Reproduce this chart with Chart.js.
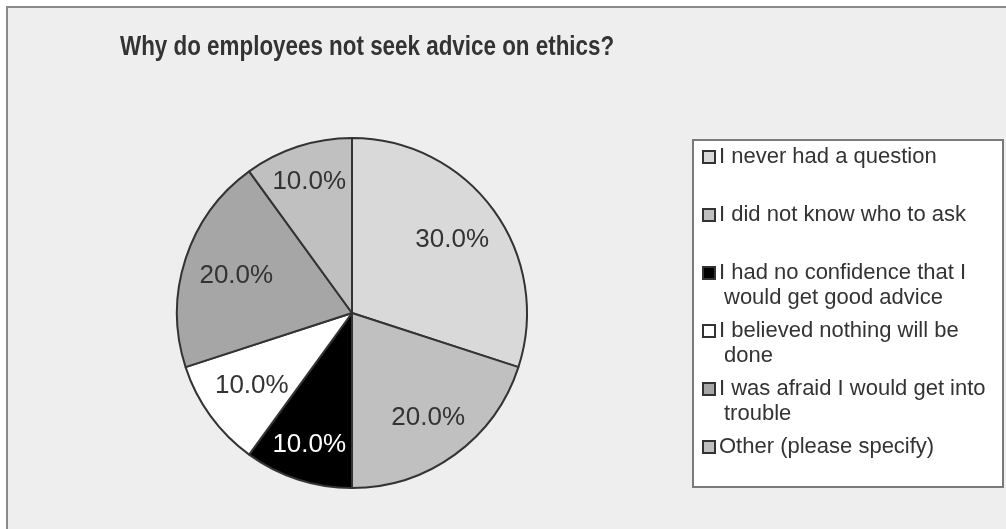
<!DOCTYPE html>
<html>
<head>
<meta charset="utf-8">
<script src="https://cdn.jsdelivr.net/npm/chart.js@4.4.0/dist/chart.umd.min.js"></script>
<style>
html, body { margin: 0; padding: 0; background: #fff; }
#wrap { width: 1006px; height: 529px; position: relative; }
</style>
</head>
<body>
<div id="wrap"><canvas id="myChart" width="1006" height="529"></canvas></div>
<script>
var titleText = "Why do employees not seek advice on ethics?";
var categories = [
    "I never had a question",
    "I did not know who to ask",
    "I had no confidence that I would get good advice",
    "I believed nothing will be done",
    "I was afraid I would get into trouble",
    "Other (please specify)"
];
var percentValues = [30, 20, 10, 10, 20, 10];
var sliceColors = ["#d9d9d9", "#c0c0c0", "#000000", "#ffffff", "#a6a6a6", "#c0c0c0"];
var labelColors = ["#333333", "#333333", "#ffffff", "#333333", "#333333", "#333333"];

var FONT = "'Liberation Sans', Arial, sans-serif";

// fond + cadre gris
var backgroundPlugin = {
    id: "background",
    beforeDraw: function(chart) {
        var ctx = chart.ctx;
        ctx.save();
        ctx.fillStyle = "#ffffff";
        ctx.fillRect(0, 0, chart.width, chart.height);
        ctx.fillStyle = "#8a8a8a";
        ctx.fillRect(6, 6, chart.width, chart.height);
        ctx.fillStyle = "#eeeeee";
        ctx.fillRect(8, 8, chart.width, chart.height);
        ctx.restore();
    }
};

// etiquettes en % sur les parts (boite de texte rentree depuis le bord)
var sliceLabelPlugin = {
    id: "sliceLabels",
    afterDatasetsDraw: function(chart) {
        var ctx = chart.ctx;
        var meta = chart.getDatasetMeta(0);
        ctx.save();
        ctx.font = "26px " + FONT;
        ctx.textAlign = "center";
        ctx.textBaseline = "middle";
        meta.data.forEach(function(arc, i) {
            var p = arc.getProps(["x", "y", "startAngle", "endAngle", "outerRadius"], true);
            var txt = percentValues[i].toFixed(1) + "%";
            var halfW = ctx.measureText(txt).width / 2;
            var halfH = 11;
            var mid = (p.startAngle + p.endAngle) / 2;
            var c = Math.cos(mid), s = Math.sin(mid);
            var r = p.outerRadius * 0.915 - (halfW * Math.abs(c) + halfH * Math.abs(s));
            ctx.fillStyle = labelColors[i];
            ctx.fillText(txt, p.x + c * r, p.y + s * r);
        });
        ctx.restore();
    }
};

function wrapText(ctx, text, maxWidth) {
    var words = text.split(" ");
    var lines = [];
    var line = "";
    words.forEach(function(w) {
        var test = line ? line + " " + w : w;
        if (line && ctx.measureText(test).width > maxWidth) {
            lines.push(line);
            line = w;
        } else {
            line = test;
        }
    });
    if (line) lines.push(line);
    return lines;
}

// titre + legende dans un cadre
var legendBoxPlugin = {
    id: "legendBox",
    afterDraw: function(chart) {
        var ctx = chart.ctx;
        ctx.save();
        ctx.fillStyle = "#333333";
        ctx.font = "bold 28px " + FONT;
        ctx.textAlign = "left";
        ctx.textBaseline = "alphabetic";
        ctx.save();
        ctx.translate(120, 55);
        ctx.scale(0.8, 1);
        ctx.fillText(titleText, 0, 0);
        ctx.restore();

        ctx.fillStyle = "#ffffff";
        ctx.fillRect(693, 140, 310, 347);
        ctx.strokeStyle = "#7a7a7a";
        ctx.lineWidth = 2;
        ctx.strokeRect(693, 140, 310, 347);

        ctx.font = "22px " + FONT;
        ctx.textBaseline = "middle";
        categories.forEach(function(cat, i) {
            var cy = 157 + 58 * i;
            ctx.fillStyle = "#333333";
            ctx.fillRect(702, cy - 7, 14, 14);
            ctx.fillStyle = sliceColors[i];
            ctx.fillRect(704, cy - 5, 10, 10);
            ctx.fillStyle = "#333333";
            var lines = wrapText(ctx, cat, 280);
            lines.forEach(function(l, k) {
                ctx.fillText(l, k == 0 ? 719 : 724, cy + 25 * k);
            });
        });
        ctx.restore();
    }
};

new Chart("myChart", {
    type: "pie",
    data: {
        labels: categories,
        datasets: [{
            data: percentValues,
            backgroundColor: sliceColors,
            borderColor: "#333333",
            borderWidth: 2
        }]
    },
    options: {
        responsive: false,
        animation: false,
        layout: {
            padding: { left: 176, right: 478, top: 137, bottom: 40 }
        },
        plugins: {
            legend: { display: false },
            title: { display: false },
            tooltip: { enabled: false }
        }
    },
    plugins: [backgroundPlugin, sliceLabelPlugin, legendBoxPlugin]
});
</script>
</body>
</html>
